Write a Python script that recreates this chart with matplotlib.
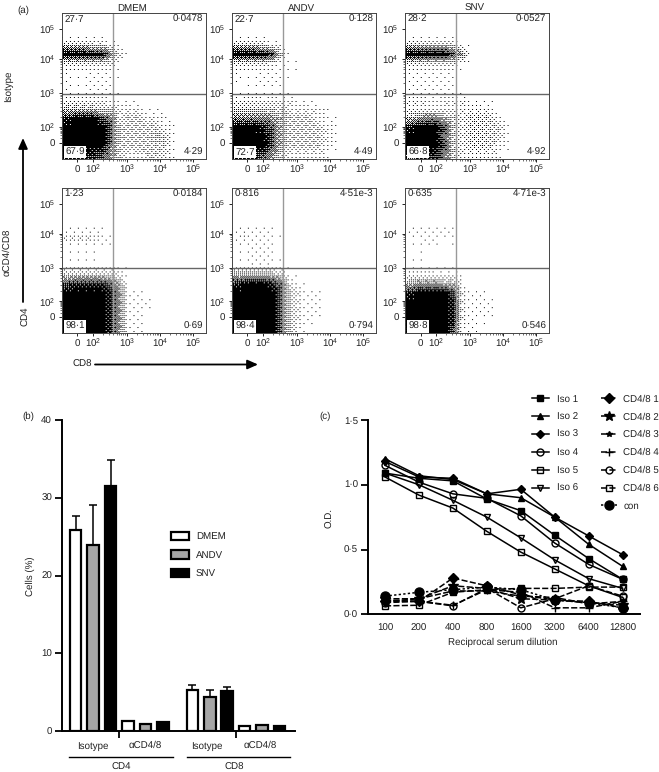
import numpy as np
import matplotlib
matplotlib.use('Agg')
import matplotlib.pyplot as plt
from matplotlib.patches import Patch

plt.rcParams['font.family'] = ['Liberation Sans', 'DejaVu Sans']
plt.rcParams['mathtext.default'] = 'regular'
plt.rcParams['font.size'] = 7.0
plt.rcParams['text.hinting'] = 'no_hinting'

W, H = 659, 772
INK = '#222222'

# --- (a) flow panels: dot density read per cell (0 white .. 9 black), 16 x 16 cells ---
TITLES = ['DMEM', 'ANDV', 'SNV']
BLANK = '0000000000000000'
dens_iso_dmem = [BLANK, BLANK, BLANK,
    '4443321000000000', '9999952000000000', '3333321000000000', '1111111000000000',
    '1011110000000000', '1111110000000000', '2222211100000000', '4444332221100000',
    '8999762332210000', '9999973333321000', '9999973333431000', '9999963333331000',
    '8888753223321000']
dens_iso_andv = [BLANK, BLANK, BLANK,
    '4443210000000000', '9999830000000000', '3333211100000000', '1111111000000000',
    '1011110000000000', '0110100000000000', '2222222110000000', '3333332222100000',
    '6666543332110000', '9998743333210000', '9999743333210000', '9999743333210000',
    '8887532222100000']
dens_iso_snv = [BLANK, BLANK, BLANK,
    '4444431000000000', '9999975000000000', '3333321000000000', '1111110000000000',
    '1111110000000000', '1111110000000000', '2221222111000000', '2222222221000000',
    '4566432333100000', '8999732333310000', '9999632333310000', '9999732333210000',
    '7888632222100000']
dens_cd_dmem = [BLANK, BLANK, BLANK, BLANK,
    '1111100000000000', '2222110000000000', '1111110000000000', '0101000000000000',
    '1111111000000000', '3333332000000000', '7888864000000000', '9999985110000000',
    '9999985111000000', '9999985111000000', '9999985110000000', '9999985110000000']
dens_cd_andv = [BLANK, BLANK, BLANK, BLANK,
    '1111100000000000', '1211110000000000', '1111100000000000', '0111100000000000',
    '1111110000000000', '4444431000000000', '8999862100000000', '9999973211000000',
    '9999973211000000', '9999973211000000', '9999973211000000', '9999973100000000']
dens_cd_snv = [BLANK, BLANK, BLANK, BLANK,
    '1111110000000000', '1111110000000000', '0111010000000000', '0100000000000000',
    '1110000000000000', '2222221000000000', '4555441000000000', '8999972110000000',
    '9999982111000000', '9999982111000000', '9999982111000000', '8999971100000000']
DENSITIES = [dens_iso_dmem, dens_iso_andv, dens_iso_snv, dens_cd_dmem, dens_cd_andv, dens_cd_snv]

Q_TL = ['27·7', '22·7', '28·2', '1·23', '0·816', '0·635']
Q_TR = ['0·0478', '0·128', '0·0527', '0·0184', '4·51e-3', '4·71e-3']
Q_BL = ['67·9', '72·7', '66·8', '98·1', '98·4', '98·8']
Q_BR = ['4·29', '4·49', '4·92', '0·69', '0·794', '0·546']

# --- (b) bars ---
BAR_SERIES = ['DMEM', 'ANDV', 'SNV']
BAR_COLORS = ['white', '#a6a6a6', 'black']
bar_pos = [0, 1, 2, 3, 4, 5, 6.68, 7.68, 8.68, 9.68, 10.68, 11.68]
bar_vals = [25.9, 23.9, 31.5, 1.3, 0.85, 1.2, 5.3, 4.4, 5.2, 0.65, 0.8, 0.6]
bar_errs = [1.8, 5.2, 3.3, 0, 0, 0, 0.65, 0.85, 0.4, 0, 0, 0]

# --- (c) dilution curves ---
DILUTIONS = ['100', '200', '400', '800', '1600', '3200', '6400', '12800']
iso1 = [1.09, 1.05, 1.03, 0.89, 0.80, 0.61, 0.43, 0.27]
iso2 = [1.20, 1.07, 1.04, 0.93, 0.90, 0.75, 0.54, 0.37]
iso3 = [1.18, 1.06, 1.05, 0.93, 0.965, 0.75, 0.605, 0.46]
iso4 = [1.15, 1.02, 0.93, 0.895, 0.76, 0.55, 0.385, 0.27]
iso5 = [1.06, 0.92, 0.82, 0.64, 0.48, 0.35, 0.22, 0.13]
iso6 = [1.09, 1.00, 0.88, 0.75, 0.59, 0.42, 0.275, 0.20]
cd1 = [0.10, 0.10, 0.28, 0.22, 0.15, 0.11, 0.10, 0.05]
cd2 = [0.12, 0.12, 0.22, 0.20, 0.12, 0.11, 0.09, 0.07]
cd3 = [0.10, 0.12, 0.18, 0.18, 0.14, 0.13, 0.08, 0.10]
cd4 = [0.11, 0.10, 0.07, 0.19, 0.17, 0.05, 0.05, 0.10]
cd5 = [0.09, 0.10, 0.065, 0.20, 0.05, 0.12, 0.22, 0.14]
cd6 = [0.065, 0.07, 0.17, 0.19, 0.20, 0.20, 0.21, 0.21]
con = [0.14, 0.17, 0.19, 0.21, 0.19, 0.11, 0.09, 0.05]

fig = plt.figure(figsize=(W / 100, H / 100), dpi=100)

def px_axes(left, top, right, bottom):
    return fig.add_axes([left / W, 1 - bottom / H, (right - left) / W, (bottom - top) / H])

def px_text(x, y, s, **kw):
    kw.setdefault('ha', 'center')
    kw.setdefault('va', 'center')
    kw.setdefault('color', INK)
    fig.text(x / W, 1 - y / H, s, **kw)

def minor_ticks(decades):
    out = []
    for a, b in zip(decades[:-1], decades[1:]):
        out += [a + (b - a) * np.log10(k) for k in range(2, 10)]
    return out

# ordered 8x8 halftone so the density cells print as dots
bayer = np.array([[0]])
for _ in range(3):
    bayer = np.block([[4 * bayer, 4 * bayer + 2], [4 * bayer + 3, 4 * bayer + 1]])
bayer = (bayer + 0.5) / 64

def halftone(dens, size=146):
    grid = np.array([[int(ch) for ch in row] for row in dens]) / 9.0
    cells = (np.arange(size) + 0.5) / size * len(dens) - 0.5
    idx = np.arange(len(dens))
    rows = np.array([np.interp(cells, idx, col) for col in grid.T]).T
    fine = np.array([np.interp(cells, idx, row) for row in rows])
    screen = np.tile(bayer, (size // 8 + 1, size // 8 + 1))[:size, :size]
    return (fine ** 1.7 > screen).astype(float)

COL_X = [(61.7, 206), (231.7, 376), (405, 549)]
ROW_Y = [(13, 158.7), (188, 333)]
XT = np.array([77.3, 93, 126.7, 160, 193]) - 61.7
YT = np.array([29, 59, 93, 127, 143])
TICK_LABELS = ['0', '$10^{2}$', '$10^{3}$', '$10^{4}$', '$10^{5}$']

for i, dens in enumerate(DENSITIES):
    c, r = i % 3, i // 3
    l, rgt = COL_X[c]
    t, b = ROW_Y[r]
    ax = px_axes(l, t, rgt, b)
    ax.imshow(halftone(dens), extent=(0, 1, 0, 1), aspect='auto', cmap='gray_r', vmin=0, vmax=1,
              interpolation='bilinear')
    ax.set_xlim(0, 1)
    ax.set_ylim(0, 1)
    ax.axvline((113 - 61.7) / 144.3, color='#999999', lw=1.0)
    ax.axhline(1 - (93.7 - 13) / 145.7, color='#666666', lw=1.0)
    for s in ax.spines.values():
        s.set_linewidth(0.7)
        s.set_color('#444444')
    xmaj = XT / 144.3
    ymaj = 1 - (YT - 13) / 145.7
    ax.set_xticks(xmaj, TICK_LABELS)
    ax.set_yticks(ymaj[::-1], TICK_LABELS)
    ax.set_xticks(minor_ticks(list(xmaj[1:])), minor=True)
    ax.set_yticks(minor_ticks(list(ymaj[:0:-1])), minor=True)
    ax.tick_params(which='major', length=2.5, width=0.6, pad=2, labelcolor=INK)
    ax.tick_params(axis='x', which='major', pad=7.4)
    for lbl in ax.get_xticklabels():
        lbl.set_va('baseline')
    ax.tick_params(which='minor', length=1.2, width=0.4)
    box = dict(facecolor='white', edgecolor='none', pad=1)
    ax.text(0.02, 0.955, Q_TL[i], transform=ax.transAxes, va='center', ha='left', color=INK)
    ax.text(0.98, 0.955, Q_TR[i], transform=ax.transAxes, va='center', ha='right', color=INK)
    ax.text(0.025, 0.045, Q_BL[i], transform=ax.transAxes, va='center', ha='left', color=INK, bbox=box)
    ax.text(0.98, 0.045, Q_BR[i], transform=ax.transAxes, va='center', ha='right', color=INK)

for name, (l, rgt) in zip(TITLES, COL_X):
    px_text((l + rgt) / 2 - 2, 8, name)

px_text(23, 10, '(a)')
px_text(8, 86, 'Isotype', rotation=90)
px_text(7, 252, 'αCD4/CD8', rotation=90)
px_text(26, 316, 'CD4', rotation=90)
px_text(82, 364, 'CD8')

arrow_ax = fig.add_axes([0, 0, 1, 1])
arrow_ax.set_xlim(0, W)
arrow_ax.set_ylim(H, 0)
arrow_ax.axis('off')
arrow_ax.annotate('', xy=(23, 138), xytext=(23, 302),
                  arrowprops=dict(arrowstyle='-|>,head_width=0.4,head_length=0.9', color='black', lw=1.3, shrinkA=0, shrinkB=0))
arrow_ax.annotate('', xy=(258, 364.5), xytext=(95, 364.5),
                  arrowprops=dict(arrowstyle='-|>,head_width=0.4,head_length=0.9', color='black', lw=1.3, shrinkA=0, shrinkB=0))
arrow_ax.plot([69, 172.5], [756.7, 756.7], color='black', lw=1.0)
arrow_ax.plot([186.5, 290], [756.7, 756.7], color='black', lw=1.0)

# --- (b) ---
axb = px_axes(61.7, 420, 295, 731)
colors = [BAR_COLORS[k % 3] for k in range(len(bar_vals))]
axb.bar(bar_pos, bar_vals, width=0.66, color=colors, edgecolor='black', linewidth=1.6, zorder=3)
for x, v, e in zip(bar_pos, bar_vals, bar_errs):
    if e > 0:
        axb.errorbar(x, v, yerr=[[0], [e]], color='black', capsize=3, elinewidth=1.1, capthick=1.1, zorder=2)
axb.set_xlim(-0.8, 12.56)
axb.set_ylim(0, 40)
axb.spines['top'].set_visible(False)
axb.spines['right'].set_visible(False)
axb.spines['left'].set_linewidth(1.4)
axb.spines['bottom'].set_linewidth(1.4)
axb.set_yticks([0, 10, 20, 30, 40])
axb.set_xticks([2.5, 9.16], ['', ''])
axb.tick_params(axis='y', length=5, width=1.3, pad=2, labelcolor=INK)
axb.tick_params(axis='x', length=5, width=1.3)
handles = [Patch(facecolor=c, edgecolor='black', linewidth=1.6, label=n) for c, n in zip(BAR_COLORS, BAR_SERIES)]
fig.legend(handles=handles, loc='upper left', bbox_to_anchor=(171 / W, 1 - 531.5 / H), frameon=False, borderpad=0,
           borderaxespad=0, handlelength=1.85, handleheight=0.93, labelspacing=0.95, handletextpad=0.72, labelcolor=INK)

px_text(93, 746, 'Isotype')
px_text(145, 745, 'αCD4/8')
px_text(207, 746, 'Isotype')
px_text(260, 745, 'αCD4/8')
px_text(121, 767, 'CD4')
px_text(234, 767, 'CD8')
px_text(30, 576, 'Cells (%)', rotation=90)
px_text(28, 416, '(b)')
px_text(325, 416, '(c)')

# --- (c) ---
axc = px_axes(367.7, 420, 640, 614.3)
x = np.arange(len(DILUTIONS))
solid = [(iso1, 's', 'black', 'Iso 1'), (iso2, '^', 'black', 'Iso 2'), (iso3, 'D', 'black', 'Iso 3'),
         (iso4, 'o', 'none', 'Iso 4'), (iso5, 's', 'none', 'Iso 5'), (iso6, 'v', 'none', 'Iso 6')]
dashed = [(cd1, 'D', 'black', 'CD4/8 1', 5.5), (cd2, '*', 'black', 'CD4/8 2', 7), (cd3, '*', 'black', 'CD4/8 3', 4),
          (cd4, '+', 'black', 'CD4/8 4', 6), (cd5, 'o', 'none', 'CD4/8 5', 5), (cd6, 's', 'none', 'CD4/8 6', 5)]
iso_handles = []
for vals, m, fc, name in solid:
    ms = 4.2 if m == 'D' else 5
    line, = axc.plot(x, vals, color='black', lw=1.1, marker=m, ms=ms, mfc=fc, mew=1.0, clip_on=False, label=name)
    iso_handles.append(line)
cd_handles = []
for vals, m, fc, name, ms in dashed:
    line, = axc.plot(x, vals, color='black', lw=1.1, ls=(0, (4, 1.5)), marker=m, ms=ms, mfc=fc, mew=1.0, clip_on=False, label=name)
    cd_handles.append(line)
line, = axc.plot(x, con, color='black', lw=1.1, ls=(0, (1.5, 1.5)), marker='o', ms=6.5, clip_on=False, label='con')
cd_handles.append(line)

axc.set_xlim(-0.51, 7.51)
axc.set_ylim(0, 1.5)
axc.spines['top'].set_visible(False)
axc.spines['right'].set_visible(False)
axc.spines['left'].set_linewidth(1.4)
axc.spines['bottom'].set_linewidth(1.4)
axc.set_xticks(x, DILUTIONS)
axc.set_yticks([0, 0.5, 1.0, 1.5], ['0·0', '0·5', '1·0', '1·5'])
axc.tick_params(axis='x', length=0, pad=7, labelcolor=INK)
axc.tick_params(axis='y', length=5, width=1.3, pad=2, labelcolor=INK)
px_text(503, 642, 'Reciprocal serum dilution')
px_text(330, 518, 'O.D.', rotation=90)

fig.legend(handles=iso_handles, loc='upper left', bbox_to_anchor=(531.7 / W, 1 - 394.3 / H), frameon=False, borderpad=0,
           borderaxespad=0, handlelength=1.78, labelspacing=0.88, handletextpad=0.79, labelcolor=INK)
fig.legend(handles=cd_handles, loc='upper left', bbox_to_anchor=(600.7 / W, 1 - 394.3 / H), frameon=False, borderpad=0,
           borderaxespad=0, handlelength=1.68, labelspacing=0.88, handletextpad=0.65, labelcolor=INK)

fig.savefig('out.png', dpi=100)
